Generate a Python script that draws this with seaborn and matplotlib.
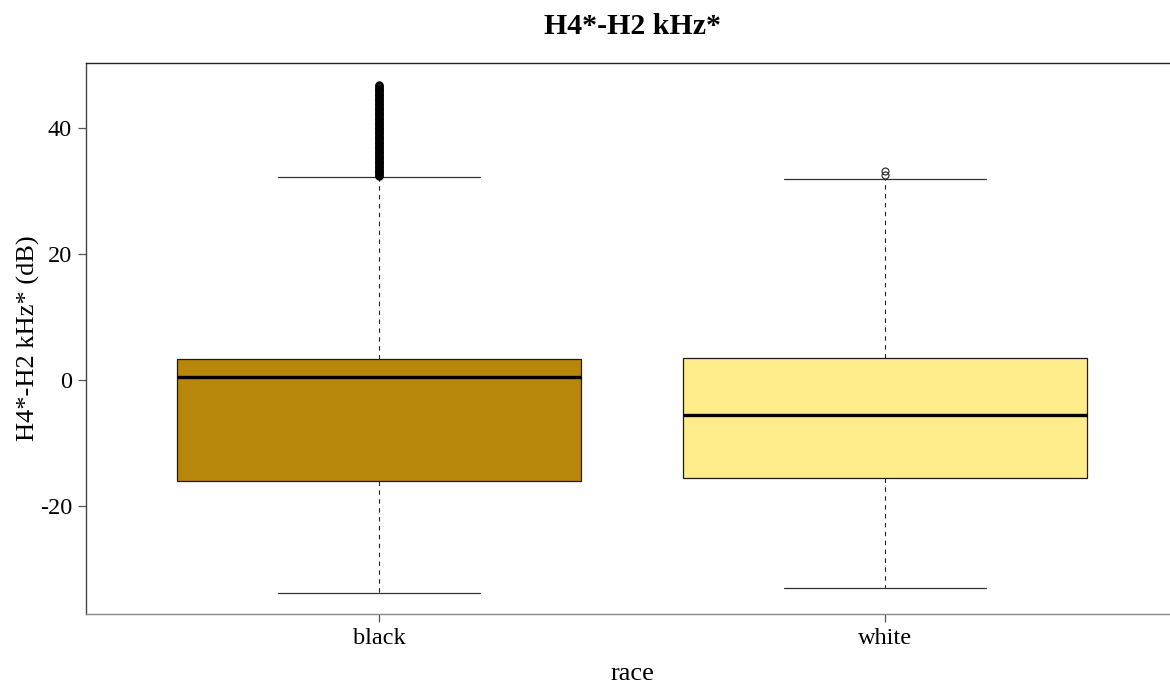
import numpy as np
import pandas as pd
import matplotlib
matplotlib.use("Agg")
import matplotlib.pyplot as plt
import seaborn as sns

# Summary statistics of H4*-H2 kHz* (dB) per speaker race
races = ["black", "white"]
fill_colors = ["#B8860B", "#FFEC8B"]
lower_whisker = [-33.8, -32.9]
q1 = [-16.0, -15.6]
median = [0.5, -5.6]
q3 = [3.3, 3.5]
upper_whisker = [32.2, 31.9]
outliers = [
    [32.4, 32.6, 32.8, 33.0, 33.2, 33.4, 33.6, 33.8, 34.0, 34.2, 34.4, 34.6,
     34.8, 35.0, 35.2, 35.4, 35.6, 35.8, 36.0, 36.2, 36.4, 36.6, 36.8, 37.0,
     37.2, 37.4, 37.6, 37.8, 38.0, 38.2, 38.4, 38.6, 38.8, 39.0, 39.2, 39.4,
     39.6, 39.8, 40.0, 40.2, 40.4, 40.6, 40.8, 41.0, 41.2, 41.4, 41.6, 41.8,
     42.0, 42.2, 42.4, 42.6, 42.8, 43.0, 43.2, 43.4, 43.6, 43.8, 44.0, 44.2,
     44.4, 44.6, 44.8, 45.0, 45.2, 45.4, 45.6, 45.8, 46.0, 46.2, 46.4, 46.6,
     46.8],
    [32.5, 33.2],
]
y_ticks = [-20, 0, 20, 40]

# Long-form table whose quartiles and whisker ends reproduce the summaries
rows = []
block = 80
for i, race in enumerate(races):
    vals = ([lower_whisker[i]] + [q1[i]] * block + [median[i]] * block
            + [q3[i]] * block + [upper_whisker[i]] + outliers[i])
    rows += [(race, v) for v in vals]
df = pd.DataFrame(rows, columns=["race", "value"])

sns.set_style("white")
plt.rcParams["font.family"] = ["Liberation Serif", "DejaVu Serif"]
plt.rcParams["text.color"] = "black"
plt.rcParams["axes.labelcolor"] = "black"
plt.rcParams["xtick.labelcolor"] = "black"
plt.rcParams["ytick.labelcolor"] = "black"

W, H = 1170, 683
fig = plt.figure(figsize=(W / 100, H / 100), dpi=100)
ax_left, ax_right, ax_top, ax_bottom = 86, 1178, 63, 614
ax = fig.add_axes([ax_left / W, 1 - ax_bottom / H,
                   (ax_right - ax_left) / W, (ax_bottom - ax_top) / H])

sns.boxplot(
    data=df, x="race", y="value", hue="race", order=races, hue_order=races,
    palette=fill_colors, width=0.8, whis=1.5, linecolor="black",
    linewidth=0.9, fliersize=4.6, legend=False, saturation=1, ax=ax,
    boxprops=dict(edgecolor="#1a1a1a", linewidth=0.9),
    medianprops=dict(color="black", linewidth=2.4),
    whiskerprops=dict(color="#222222", linewidth=0.8, linestyle=(0, (4, 4))),
    capprops=dict(color="#333333", linewidth=0.9, linestyle="-"),
    flierprops=dict(marker="o", markerfacecolor="none",
                    markeredgecolor="black", markeredgewidth=1.5),
)

# The sparse outliers of the second group are drawn as thin open circles
flier_lines = [ln for ln in ax.lines if ln.get_marker() == "o"]
if len(flier_lines) > 1:
    flier_lines[1].set_markeredgewidth(0.8)
    flier_lines[1].set_markeredgecolor("#222222")
    flier_lines[1].set_markersize(5)

ax.set_xlim(-0.579, 1.579)
ax.set_ylim(-37.1, 50.3)
ax.set_yticks(y_ticks)
ax.set_yticklabels([str(t) for t in y_ticks])

ax.spines["top"].set_color("#222222")
ax.spines["left"].set_color("#444444")
ax.spines["bottom"].set_color("#888888")
ax.spines["right"].set_visible(False)
for s in ("top", "left", "bottom"):
    ax.spines[s].set_linewidth(1.0)

ax.tick_params(axis="y", direction="out", length=6, width=0.9,
               color="#555555", labelcolor="black", labelsize=17.5, pad=4,
               left=True)
ax.tick_params(axis="x", direction="out", length=6, width=0.9,
               color="#555555", labelcolor="black", labelsize=17.5, pad=4,
               bottom=True)

ax.set_xlabel("race", fontsize=19, labelpad=10, color="black")
ax.set_ylabel("H4*-H2 kHz* (dB)", fontsize=19, labelpad=0, color="black")
ax.set_title("H4*-H2 kHz*", fontsize=21.5, fontweight="bold", pad=21,
             color="black")

fig.savefig("out.png", dpi=100)
